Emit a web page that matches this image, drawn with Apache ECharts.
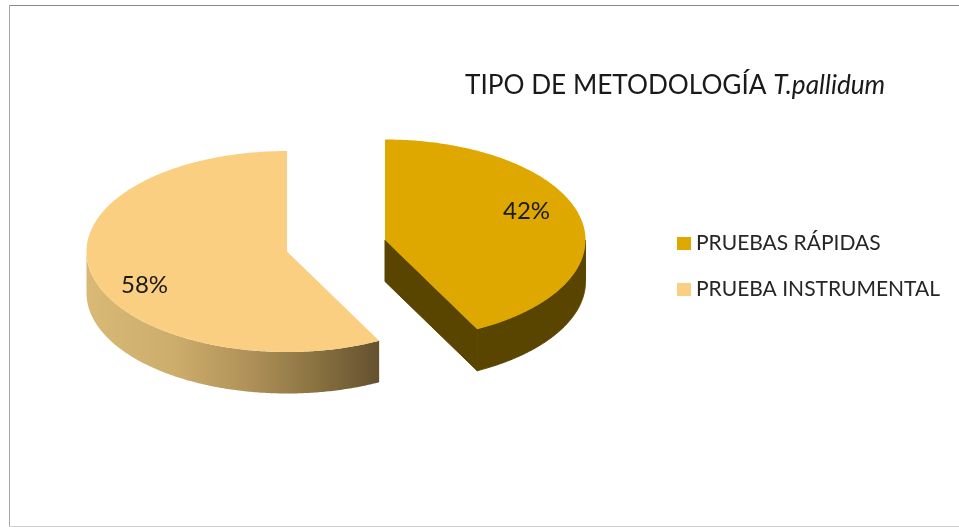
<!DOCTYPE html>
<html>
<head>
<meta charset="utf-8">
<style>html,body{margin:0;padding:0;background:#fff}#c{width:959px;height:527px}</style>
<script src="https://cdn.jsdelivr.net/npm/echarts@6/dist/echarts.min.js"></script>
</head>
<body>
<div id="c"></div>
<script>
const categories = ['PRUEBAS RÁPIDAS', 'PRUEBA INSTRUMENTAL'];
const seriesValues = [42.4, 57.6];
const topColors = ['#DFA800', '#FBCF82'];

const RX = 200.5, RY = 100.5, DEPTH = 41.5;
const pivots = [[385, 240], [287, 251.5]];
const labelPos = [[526.5, 211], [144.5, 285]];
const total = seriesValues[0] + seriesValues[1];
const rad = v => v / total * Math.PI * 2;

function pt(c, a, dz) { return [c[0] + RX * Math.sin(a), c[1] - RY * Math.cos(a) + (dz || 0)]; }
function arc(c, a0, a1, dz) {
  const n = Math.max(2, Math.ceil(Math.abs(a1 - a0) / 0.01));
  const out = [];
  for (let i = 0; i <= n; i++) out.push(pt(c, a0 + (a1 - a0) * i / n, dz));
  return out;
}
function poly(points, fill, seal) {
  return { type: 'polygon', shape: { points: points }, style: { fill: fill, stroke: seal ? fill : null, lineWidth: seal ? 1 : 0 } };
}
function wallFill(i, c) {
  if (i === 0) return '#5A4500';
  return {
    type: 'linear', x: c[0] - RX, y: 0, x2: c[0] + 92, y2: 0, global: true,
    colorStops: [
      { offset: 0, color: '#D9B975' }, { offset: 0.3, color: '#CDAD6C' },
      { offset: 0.55, color: '#B09259' }, { offset: 0.8, color: '#86703F' },
      { offset: 1, color: '#655030' }
    ]
  };
}
function renderSlice(params, api) {
  const i = params.seriesIndex;
  const c = pivots[i];
  let s = 0;
  for (let k = 0; k < i; k++) s += seriesValues[k];
  const a0 = rad(s), a1 = rad(s + api.value(0));
  const children = [];
  // outer wall: the part of the arc facing the viewer
  const w0 = Math.max(a0, Math.PI / 2), w1 = Math.min(a1, Math.PI * 1.5);
  if (w1 > w0) {
    children.push(poly(arc(c, w0, w1, 0).concat(arc(c, w1, w0, DEPTH)), wallFill(i, c), i === 0));
  }
  // cut face visible on the first slice
  if (i === 0) {
    const tip = pt(c, a1, 0);
    children.push(poly([c, tip, [tip[0], tip[1] + DEPTH], [c[0], c[1] + DEPTH]], wallFill(0, c), true));
  }
  children.push(poly([c].concat(arc(c, a0, a1, 0)), topColors[i]));
  children.push({
    type: 'text', x: labelPos[i][0], y: labelPos[i][1],
    style: {
      text: Math.round(api.value(0)) + '%', fill: '#1a1a1a', align: 'center', verticalAlign: 'middle',
      font: '24px Lato'
    }
  });
  return { type: 'group', children: children };
}

const chart = echarts.init(document.getElementById('c'), null, { renderer: 'canvas' });
chart.setOption({
  animation: false,
  backgroundColor: '#ffffff',
  title: {
    left: 465, top: 73, padding: 0,
    text: '{a|TIPO DE METODOLOGÍA }{b|T.pallidum}',
    textStyle: {
      fontWeight: 'normal',
      rich: {
        a: { fontFamily: 'Lato', fontSize: 26.2, fontWeight: 'normal', color: '#1a1a1a' },
        b: { fontFamily: 'Lato', fontSize: 26.2, fontWeight: 'normal', fontStyle: 'italic', color: '#1a1a1a' }
      }
    }
  },
  legend: {
    orient: 'vertical', left: 677, top: 233, icon: 'rect', itemWidth: 14, itemHeight: 13, itemGap: 25, padding: 0,
    data: categories,
    textStyle: { fontFamily: 'Lato', fontSize: 21, color: '#262626' }
  },
  graphic: [
    { type: 'line', shape: { x1: 9, y1: 5.5, x2: 959, y2: 5.5 }, style: { stroke: '#8a8a8a', lineWidth: 1 } },
    { type: 'line', shape: { x1: 9.5, y1: 5, x2: 9.5, y2: 527 }, style: { stroke: '#a8a8a8', lineWidth: 1 } },
    { type: 'line', shape: { x1: 9, y1: 526.5, x2: 959, y2: 526.5 }, style: { stroke: '#cfcfcf', lineWidth: 1 } }
  ],
  series: categories.map((name, i) => ({
    type: 'custom', name: name, coordinateSystem: 'none',
    itemStyle: { color: topColors[i] },
    renderItem: renderSlice,
    silent: true,
    data: [[seriesValues[i]]]
  }))
});
</script>
</body>
</html>
